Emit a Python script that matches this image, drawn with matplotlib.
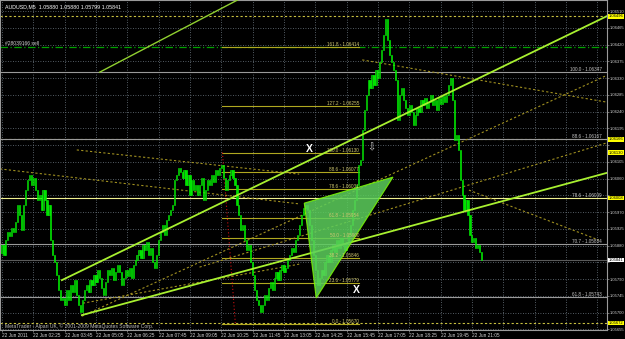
import numpy as np
import matplotlib.pyplot as plt
from matplotlib.patches import Polygon

plt.rcParams['font.family'] = ['Liberation Sans', 'DejaVu Sans']

# AUDUSD M5, closes in pips above 1.05000, one bar every 5 minutes from 01:05
close_pips = [
    88.1, 85.4, 89.5, 91.6, 90.5, 92.7, 91.6, 94.3, 98.9, 96.2,
    92.2, 98.9, 102.9, 105.6, 107.0, 104.3, 106.1, 102.9, 100.2, 101.6,
    97.5, 102.9, 100.2, 96.2, 98.9, 89.5, 85.4, 83.6, 80.1, 76.0,
    73.3, 73.9, 72.0, 76.0, 73.3, 77.4, 75.5, 78.7, 74.7, 72.0,
    70.1, 73.3, 76.0, 77.4, 75.5, 78.7, 77.4, 80.1, 78.2, 81.4,
    79.3, 76.6, 74.7, 78.2, 81.4, 80.1, 81.9, 78.7, 80.9, 82.8,
    80.9, 77.4, 79.3, 81.4, 79.8, 81.9, 79.3, 82.8, 84.1, 85.4,
    86.8, 84.6, 88.1, 86.8, 88.9, 85.4, 87.3, 83.6, 81.9, 85.4,
    89.5, 91.6, 93.5, 90.8, 94.8, 96.2, 97.5, 98.9, 105.6, 107.0,
    108.8, 107.8, 106.1, 108.3, 104.3, 107.0, 101.6, 105.6, 102.9, 104.3,
    101.6, 104.3, 106.1, 100.2, 102.9, 105.6, 104.3, 107.0, 105.1, 108.3,
    107.0, 108.8, 109.6, 106.1, 102.9, 105.6, 107.0, 108.3, 106.1, 104.3,
    98.9, 96.2, 92.2, 93.5, 89.5, 86.8, 88.1, 83.6, 80.1, 76.0,
    73.3, 72.0, 70.1, 72.0, 74.7, 73.3, 76.6, 78.2, 76.0, 79.3,
    80.9, 78.7, 81.4, 82.8, 80.9, 81.9, 84.1, 85.4, 87.3, 86.2,
    89.5, 90.8, 93.5, 96.2, 98.1, 98.9, 97.5, 93.5, 89.5, 85.4,
    81.4, 77.4, 79.3, 81.4, 80.1, 83.6, 85.4, 83.6, 86.8, 88.1,
    86.2, 89.5, 87.3, 90.0, 88.1, 86.8, 88.9, 90.8, 93.5, 97.5,
    100.2, 104.3, 109.6, 111.0, 119.0, 124.4, 128.4, 132.5, 130.3, 133.8,
    131.1, 135.2, 133.0, 137.3, 140.5, 144.6, 149.0, 143.2, 139.2, 137.3,
    135.2, 132.5, 121.7, 128.4, 130.3, 127.1, 125.0, 123.1, 125.8, 123.9,
    120.4, 123.1, 125.0, 123.9, 127.1, 125.8, 127.6, 125.0, 126.6, 128.4,
    125.8, 127.1, 124.4, 127.6, 126.0, 128.2, 126.6, 128.4, 131.1, 133.0,
    127.1, 116.4, 117.7, 113.7, 105.6, 101.6, 97.5, 100.2, 96.2, 90.8,
    88.9, 90.0, 87.3, 88.1, 86.2, 84.1,
]
first_open_pips = 86.0

time_labels = ["22 Jun 2011", "22 Jun 02:25", "22 Jun 03:45", "22 Jun 05:05",
               "22 Jun 06:25", "22 Jun 07:45", "22 Jun 09:05", "22 Jun 10:25",
               "22 Jun 11:45", "22 Jun 13:05", "22 Jun 14:25", "22 Jun 15:45",
               "22 Jun 17:05", "22 Jun 18:25", "22 Jun 19:45", "22 Jun 21:05"]
price_ticks = [1.05655, 1.05700, 1.05745, 1.05790, 1.05835, 1.05880, 1.05925,
               1.05970, 1.06015, 1.06060, 1.06105, 1.06150, 1.06195, 1.06240,
               1.06285, 1.06330, 1.06375, 1.06420, 1.06465, 1.06510]
hidden_ticks = [1.05835, 1.06015, 1.06150]   # covered by the price tags

# fibo on the left (levels drawn from the first anchor to bar 182)
fib_levels = ["161.8", "127.2", "100.0", "88.6", "78.6", "61.8", "50.0", "38.2", "23.6", "0.0"]
fib_prices = [1.06414, 1.06255, 1.06130, 1.06077, 1.06031, 1.05954, 1.05900, 1.05846, 1.05779, 1.05670]
fib_anchor_bars = [112.6, 119.2]
fib_anchor_prices = [1.06130, 1.05670]

# fibo with full-width levels
fib2_levels = ["100.0", "88.6", "78.6", "70.7", "61.8"]
fib2_prices = [1.06347, 1.06167, 1.06009, 1.05884, 1.05743]
fib2_colors = ["#9a9a9a", "#9a9a9a", "#f0f090", "#9a9a9a", "#9a9a9a"]

# trend lines (two anchors each, drawn as rays to the right)
trend_bars = [[30.6, 243.6], [40.8, 202.8]]
trend_prices = [[1.05787, 1.06330], [1.05693, 1.05924]]
top_line_bars = [49.9, 120.3]
top_line_prices = [1.06346, 1.06540]

# dotted helper lines (pitchfork / channel guides)
dot_bars = [[-1.0, 151.8], [38.2, 151.8], [40.8, 308.3], [184.0, 308.3],
            [41.3, 151.8], [100.9, 308.3], [238.5, 304.7]]
dot_prices = [[1.06086, 1.05992], [1.06137, 1.06072], [1.05690, 1.06336], [1.06379, 1.06266],
              [1.05725, 1.05830], [1.05822, 1.06155], [1.06029, 1.05895]]

# triangle pattern and marks
tri_bars = [154.4, 199.7, 160.5]
tri_prices = [1.05994, 1.06064, 1.05739]
x_marks_bars = [156.9, 180.9]
x_marks_prices = [1.06139, 1.05760]

hlines_dotted = [1.06496, 1.06167, 1.05672]
order_price = 1.06414
bid = 1.05841
tag_prices = [1.06496, 1.06166, 1.06130, 1.06008, 1.05672]

closes = 1.05 + np.array(close_pips) / 10000
opens = np.concatenate([[1.05 + first_open_pips / 10000], closes[:-1]])
bars = np.arange(len(closes))

fig = plt.figure(figsize=(6.25, 3.39), dpi=100, facecolor="black")
ax = fig.add_axes([0.0, 9 / 339, 607 / 625, 330 / 339])
ax.set_facecolor("black")
ax.set_xlim(-1, 309)
ax.set_ylim(1.05653, 1.06540)

grid_kw = dict(color="#6f7a84", lw=0.6, ls=(0, (1, 2)), zorder=0)
for t in price_ticks:
    ax.axhline(t, **grid_kw)
for b in range(0, 309, 16):
    ax.axvline(b, **grid_kw)

# full width horizontal objects
for p in hlines_dotted:
    ax.axhline(p, color="#c8c040", lw=0.8, ls=(0, (2, 2)), zorder=1)
ax.axhline(order_price, color="#00a000", lw=0.9, ls=(0, (6, 2, 1, 2)), zorder=1)
ax.axhline(bid, color="#5a5a5a", lw=0.8, zorder=1)
for p, c, lev in zip(fib2_prices, fib2_colors, fib2_levels):
    ax.axhline(p, color=c, lw=0.8, zorder=1)
    ax.text(306.5, p, f"{lev} - {p:.5f}", color="#c8c8c8", fontsize=3.3,
            ha="right", va="bottom", zorder=6)

# left fibo
for p, lev in zip(fib_prices, fib_levels):
    ax.plot([fib_anchor_bars[0], 182.4], [p, p], color="#b0a820", lw=0.8, zorder=1)
    ax.text(182.4, p, f"{lev} - {p:.5f}", color="#d0c870", fontsize=3.3,
            ha="right", va="bottom", zorder=6)
ax.plot(fib_anchor_bars, fib_anchor_prices, color="#d01010", lw=0.8, ls=(0, (1, 2)), zorder=1)

# dotted helper lines
for xb, yp in zip(dot_bars, dot_prices):
    ax.plot(xb, yp, color="#a09020", lw=0.8, ls=(0, (2, 2)), zorder=1)

# candles
up = closes >= opens
lo = np.minimum(opens, closes)
hi = np.maximum(opens, closes)
h = np.maximum(hi - lo, 0.000015)
ax.bar(bars[up], h[up], bottom=lo[up], width=0.6, color="#129612",
       edgecolor="#00ff00", linewidth=0.4, zorder=3)
ax.bar(bars[~up], h[~up], bottom=lo[~up], width=0.6, color="#00e000",
       edgecolor="#00ff00", linewidth=0.4, zorder=3)

# trend lines
for xb, yp in zip(trend_bars, trend_prices):
    slope = (yp[1] - yp[0]) / (xb[1] - xb[0])
    ax.plot([xb[0], 309], [yp[0], yp[0] + slope * (309 - xb[0])],
            color="#a8f030", lw=1.3, zorder=4)
ax.plot(top_line_bars, top_line_prices, color="#90d030", lw=1.0, zorder=4)

ax.add_patch(Polygon(list(zip(tri_bars, tri_prices)), closed=True,
                     facecolor="#5ccf5c", edgecolor="#7cfc00", lw=0.8, alpha=0.85, zorder=5))

for xb, yp in zip(x_marks_bars, x_marks_prices):
    ax.text(xb, yp, "X", color="white", fontsize=7.5, fontweight="bold",
            ha="center", va="center", zorder=7)
ax.text(188.5, 1.06145, "\u21e9", color="#d0d0d0", fontsize=7, ha="center", va="center",
        family="DejaVu Sans", zorder=7)

# texts
ax.text(1.5, 1.06522, "AUDUSD,M5  1.05880 1.05880 1.05799 1.05841", color="white",
        fontsize=3.8, ha="left", va="center", zorder=8)
ax.text(1.5, order_price + 0.00002, "#28039166 sell", color="#d0d0d0", fontsize=3.6,
        ha="left", va="bottom", zorder=8)
ax.text(1.5, 1.05663, "MetaTrader - Alpari UK, \u00a9 2001-2009 MetaQuotes Software Corp.",
        color="#c0c0c0", fontsize=3.6, ha="left", va="center", zorder=8)

# axes
ax.yaxis.tick_right()
ax.set_yticks(price_ticks)
ax.set_yticklabels(["" if t in hidden_ticks else f"{t:.5f}" for t in price_ticks])
ax.set_xticks(range(0, 241, 16))
ax.set_xticklabels(time_labels, ha="left")
ax.tick_params(axis="y", labelsize=3.0, pad=0.4)
ax.tick_params(axis="x", labelsize=3.4, pad=1)
ax.tick_params(colors="#9a9a9a", labelcolor="#d0d0d0", length=1.5, width=0.5)
for s in ax.spines.values():
    s.set_color("#9a9a9a")
    s.set_linewidth(0.8)

for p in tag_prices:
    ax.text(1.003, p, f"{p:.5f}", transform=ax.get_yaxis_transform(), color="black",
            fontsize=3.0, va="center", ha="left", clip_on=False, zorder=9,
            bbox=dict(boxstyle="square,pad=0.1", fc="#ffff00", ec="none"))
ax.text(1.003, bid, f"{bid:.5f}", transform=ax.get_yaxis_transform(), color="black",
        fontsize=3.0, va="center", ha="left", clip_on=False, zorder=9,
        bbox=dict(boxstyle="square,pad=0.1", fc="white", ec="none"))

fig.savefig("out.png", dpi=100, facecolor="black")
